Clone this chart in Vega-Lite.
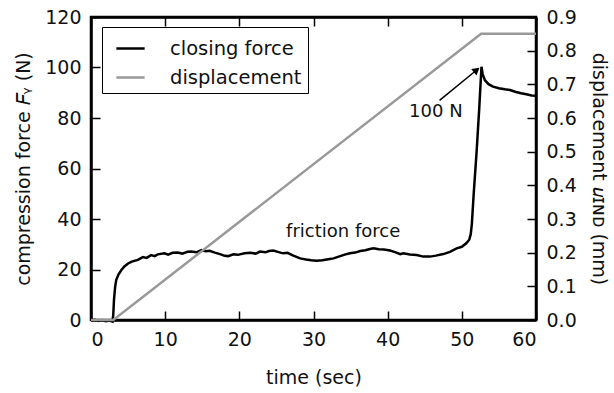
{
  "$schema": "https://vega.github.io/schema/vega-lite/v6.json",
  "width": 445,
  "height": 303,
  "autosize": {"type": "none"},
  "padding": {"left": 91, "top": 17, "right": 78, "bottom": 73},
  "background": "white",
  "datasets": {
    "force": [
      {"t": 0, "force": -0.3}, {"t": 0.5, "force": 0.1}, {"t": 1, "force": -0.4}, {"t": 1.5, "force": 0.0},
      {"t": 2, "force": -0.5}, {"t": 2.5, "force": -0.2}, {"t": 2.9, "force": -0.6}, {"t": 3.0, "force": 2},
      {"t": 3.1, "force": 8}, {"t": 3.25, "force": 13}, {"t": 3.4, "force": 15.8}, {"t": 3.7, "force": 18},
      {"t": 4.1, "force": 19.8}, {"t": 4.5, "force": 21.2}, {"t": 5.0, "force": 22.4}, {"t": 5.5, "force": 23.1},
      {"t": 6.3, "force": 23.8}, {"t": 7.0, "force": 24.9}, {"t": 7.5, "force": 24.6}, {"t": 8.1, "force": 25.7},
      {"t": 8.6, "force": 25.3}, {"t": 9.0, "force": 26.0}, {"t": 9.9, "force": 26.4}, {"t": 10.4, "force": 25.9},
      {"t": 11.0, "force": 26.6}, {"t": 11.7, "force": 26.7}, {"t": 12.3, "force": 26.3}, {"t": 13.0, "force": 27.0},
      {"t": 13.5, "force": 27.1}, {"t": 14.2, "force": 26.8}, {"t": 14.9, "force": 27.7}, {"t": 15.5, "force": 27.2},
      {"t": 16.0, "force": 27.4}, {"t": 16.7, "force": 26.7}, {"t": 17.5, "force": 26.0}, {"t": 18.0, "force": 25.4},
      {"t": 18.5, "force": 25.3}, {"t": 19.2, "force": 26.0}, {"t": 19.8, "force": 25.8}, {"t": 20.7, "force": 26.4},
      {"t": 21.5, "force": 26.6}, {"t": 22.2, "force": 26.3}, {"t": 22.8, "force": 27.1}, {"t": 23.5, "force": 26.8},
      {"t": 24.0, "force": 27.3}, {"t": 24.6, "force": 27.5}, {"t": 25.3, "force": 26.9}, {"t": 25.9, "force": 26.4},
      {"t": 26.5, "force": 26.6}, {"t": 27.2, "force": 25.6}, {"t": 28.2, "force": 24.4}, {"t": 29.0, "force": 24.0},
      {"t": 29.7, "force": 23.7}, {"t": 30.4, "force": 23.5}, {"t": 31.2, "force": 23.7}, {"t": 32.0, "force": 24.1},
      {"t": 32.7, "force": 24.4}, {"t": 33.5, "force": 25.2}, {"t": 34.2, "force": 25.9}, {"t": 34.9, "force": 26.4},
      {"t": 35.6, "force": 26.7}, {"t": 36.3, "force": 27.3}, {"t": 37.0, "force": 27.6}, {"t": 37.6, "force": 28.1},
      {"t": 38.1, "force": 28.4}, {"t": 38.8, "force": 28.0}, {"t": 39.5, "force": 27.9}, {"t": 40.3, "force": 27.5},
      {"t": 41.0, "force": 26.9}, {"t": 41.7, "force": 26.1}, {"t": 42.1, "force": 26.4}, {"t": 43.0, "force": 25.9},
      {"t": 43.9, "force": 25.7}, {"t": 44.8, "force": 25.1}, {"t": 45.7, "force": 25.1}, {"t": 46.5, "force": 25.5},
      {"t": 47.5, "force": 26.1}, {"t": 48.4, "force": 27.0}, {"t": 49.3, "force": 28.4}, {"t": 50.0, "force": 29.0},
      {"t": 50.6, "force": 30.4}, {"t": 51.0, "force": 31.8}, {"t": 51.2, "force": 34}, {"t": 51.35, "force": 38},
      {"t": 51.6, "force": 50}, {"t": 52.0, "force": 67}, {"t": 52.35, "force": 84}, {"t": 52.65, "force": 100.3},
      {"t": 52.8, "force": 97.5}, {"t": 53.1, "force": 95}, {"t": 53.6, "force": 93.4}, {"t": 54.2, "force": 92.4},
      {"t": 55.0, "force": 91.8}, {"t": 55.8, "force": 91.4}, {"t": 56.5, "force": 91.1}, {"t": 57.3, "force": 90.3},
      {"t": 58.0, "force": 89.8}, {"t": 58.7, "force": 89.4}, {"t": 59.4, "force": 88.9}, {"t": 60.0, "force": 88.8}
    ],
    "displacement": [
      {"t": 0, "u": 0}, {"t": 3.0, "u": 0}, {"t": 52.6, "u": 0.85}, {"t": 60, "u": 0.85}
    ],
    "notes": [
      {"t": 34, "force": 35, "label": "friction force"},
      {"t": 46.5, "force": 82.5, "label": "100 N"}
    ],
    "arrow": [
      {"t": 47.0, "force": 87, "t2": 52.0, "force2": 99}
    ]
  },
  "layer": [
    {
      "layer": [
        {
          "data": {"name": "force"},
          "mark": {"type": "line", "strokeWidth": 2.5, "interpolate": "linear"},
          "encoding": {
            "x": {"field": "t", "type": "quantitative", "scale": {"domain": [0, 60], "nice": false},
                  "axis": {"title": "time (sec)", "values": [0, 10, 20, 30, 40, 50, 60], "titlePadding": 19}},
            "y": {"field": "force", "type": "quantitative", "scale": {"domain": [0, 120], "nice": false},
                  "axis": {"title": "compression force 𝐹ᵧ (N)", "orient": "left", "values": [0, 20, 40, 60, 80, 100, 120], "titlePadding": 11}},
            "color": {"datum": "closing force", "type": "nominal",
                      "scale": {"domain": ["closing force", "displacement"], "range": ["#000000", "#999999"]},
                      "legend": {"title": null, "orient": "none", "legendX": 11, "legendY": 10}}
          }
        },
        {
          "data": {"name": "notes"},
          "mark": {"type": "text", "fontSize": 18, "font": "DejaVu Sans", "color": "#111111", "align": "center", "baseline": "middle"},
          "encoding": {
            "x": {"field": "t", "type": "quantitative"},
            "y": {"field": "force", "type": "quantitative"},
            "text": {"field": "label"}
          }
        },
        {
          "data": {"name": "arrow"},
          "mark": {"type": "rule", "strokeWidth": 1.5, "color": "black"},
          "encoding": {
            "x": {"field": "t", "type": "quantitative"},
            "y": {"field": "force", "type": "quantitative"},
            "x2": {"field": "t2"},
            "y2": {"field": "force2"}
          }
        },
        {
          "data": {"name": "arrow"},
          "mark": {"type": "point", "shape": "triangle-up", "filled": true, "color": "black", "size": 70, "angle": 51, "opacity": 1},
          "encoding": {
            "x": {"field": "t2", "type": "quantitative"},
            "y": {"field": "force2", "type": "quantitative"}
          }
        }
      ]
    },
    {
      "data": {"name": "displacement"},
      "mark": {"type": "line", "strokeWidth": 2.5},
      "encoding": {
        "x": {"field": "t", "type": "quantitative", "scale": {"domain": [0, 60], "nice": false},
              "axis": {"orient": "top", "labels": false, "title": null, "values": [0, 10, 20, 30, 40, 50, 60]}},
        "y": {"field": "u", "type": "quantitative", "scale": {"domain": [0, 0.9], "nice": false},
              "axis": {"title": "displacement 𝑢ɪɴᴅ (mm)", "orient": "right", "format": ".1f", "values": [0, 0.1, 0.2, 0.3, 0.4, 0.5, 0.6, 0.7, 0.8, 0.9], "titlePadding": 12}},
        "color": {"datum": "displacement", "type": "nominal"}
      }
    }
  ],
  "resolve": {"scale": {"y": "independent"}, "axis": {"x": "independent"}},
  "config": {
    "view": {"stroke": "black", "strokeWidth": 2.5},
    "font": "DejaVu Sans",
    "axis": {
      "grid": false,
      "labelFont": "DejaVu Sans",
      "labelFontSize": 19,
      "labelColor": "#111111",
      "titleFont": "DejaVu Sans",
      "titleFontSize": 19,
      "titleFontWeight": "normal",
      "titleColor": "#111111",
      "domainColor": "black",
      "domainWidth": 2.5,
      "tickColor": "black",
      "tickWidth": 1.5,
      "tickSize": -9,
      "labelPadding": 19
    },
    "legend": {
      "labelFont": "DejaVu Sans",
      "labelFontSize": 19.5,
      "labelColor": "#111111",
      "symbolType": "stroke",
      "symbolStrokeWidth": 2.5,
      "symbolSize": 800,
      "symbolOffset": 7,
      "strokeColor": "black",
      "fillColor": "white",
      "padding": 6,
      "rowPadding": 4,
      "labelOffset": 24
    }
  }
}
